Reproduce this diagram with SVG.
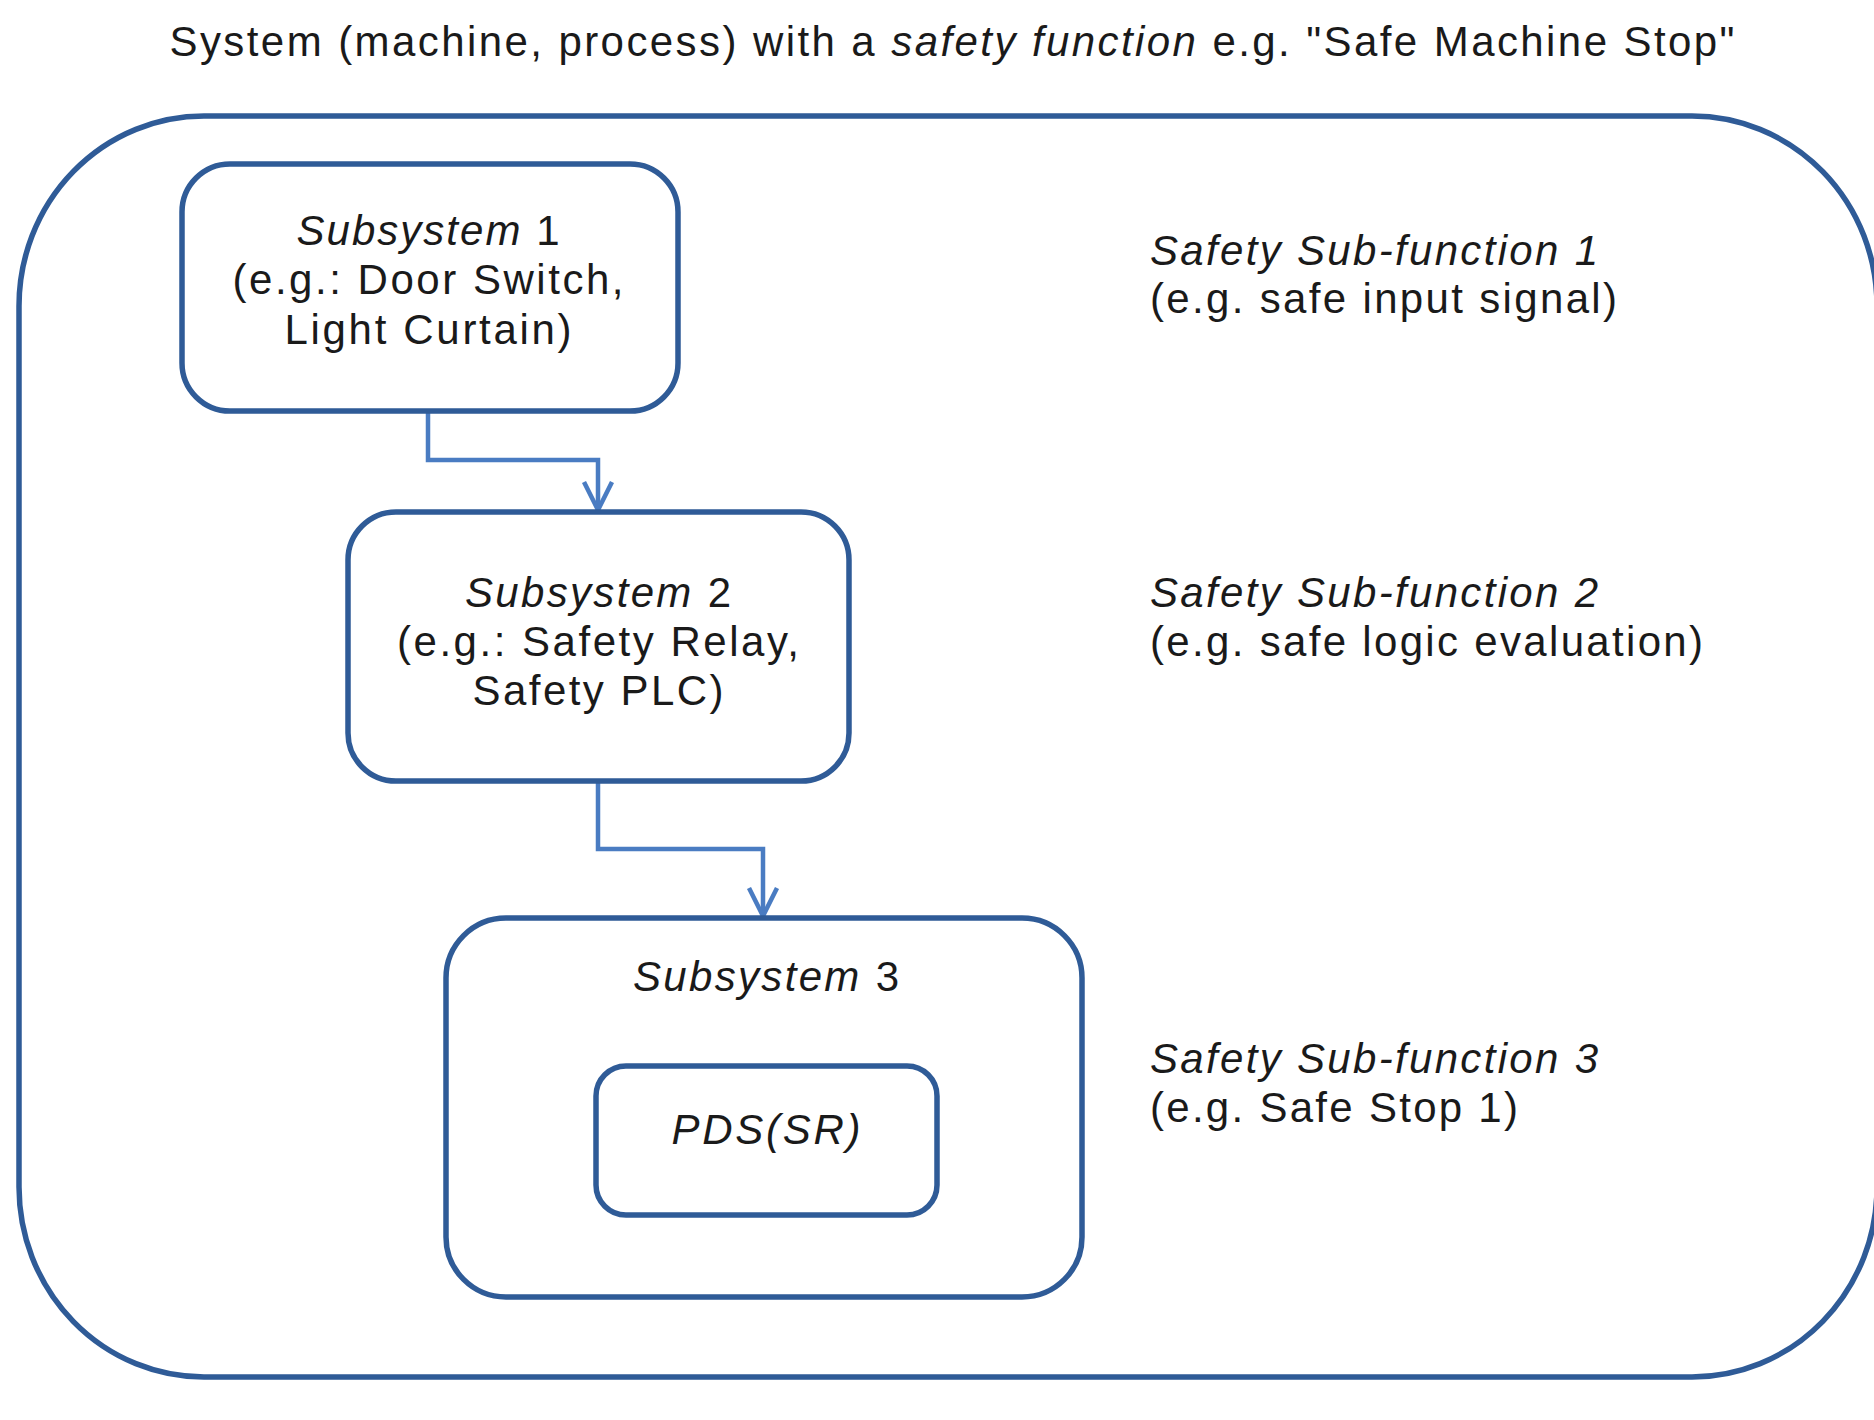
<svg xmlns="http://www.w3.org/2000/svg" width="1874" height="1420" viewBox="0 0 1874 1420">
  <style>
    .frame { fill: none; stroke: #2f5b97; stroke-width: 5.5; }
    .box { fill: #ffffff; stroke: #2f5b97; stroke-width: 5.5; }
    .wire { fill: none; stroke: #4a7cc2; stroke-width: 4.5; }
    .lbl { font-family: "Liberation Sans", Arial, sans-serif; font-size: 42px; fill: #1a1a1a; }
    .mid { text-anchor: middle; }
    .it { font-style: italic; }
  </style>
  <defs>
    <!-- open V arrowhead, drawn along +x so orient="auto" turns it with the line -->
    <marker id="vhead" markerUnits="userSpaceOnUse" markerWidth="40" markerHeight="40" refX="36" refY="20" orient="auto" viewBox="0 0 40 40">
      <path d="M8 6 L36 20 L8 34" fill="none" stroke="#4a7cc2" stroke-width="4.5"/>
    </marker>
  </defs>

  <rect width="1874" height="1420" fill="#ffffff"/>

  <!-- heading -->
  <text class="lbl" x="952" y="56" text-anchor="middle" textLength="1565" lengthAdjust="spacing">System (machine, process) with a <tspan class="it">safety function</tspan> e.g. "Safe Machine Stop"</text>

  <!-- system boundary -->
  <g id="system">
    <rect class="frame" x="19" y="116" width="1858" height="1261" rx="185" ry="190"/>
  </g>

  <g id="connectors">
    <polyline class="wire" points="428,411 428,460 598,460 598,510" marker-end="url(#vhead)"/>
    <polyline class="wire" points="598,781 598,849 763,849 763,916" marker-end="url(#vhead)"/>
  </g>

  <g id="subsystem1">
    <rect class="box" x="182" y="164" width="496" height="247" rx="48"/>
    <text class="lbl mid" x="428" y="245" textLength="263" lengthAdjust="spacing"><tspan class="it">Subsystem</tspan> 1</text>
    <text class="lbl mid" x="428" y="294" textLength="391" lengthAdjust="spacing">(e.g.: Door Switch,</text>
    <text class="lbl mid" x="428" y="344" textLength="287" lengthAdjust="spacing">Light Curtain)</text>
  </g>

  <g id="subsystem2">
    <rect class="box" x="348" y="512" width="501" height="269" rx="48"/>
    <text class="lbl mid" x="598" y="607" textLength="266" lengthAdjust="spacing"><tspan class="it">Subsystem</tspan> 2</text>
    <text class="lbl mid" x="598" y="656" textLength="402" lengthAdjust="spacing">(e.g.: Safety Relay,</text>
    <text class="lbl mid" x="598" y="705" textLength="251" lengthAdjust="spacing">Safety PLC)</text>
  </g>

  <g id="subsystem3">
    <rect class="box" x="446" y="918" width="636" height="379" rx="60"/>
    <text class="lbl mid" x="766" y="991" textLength="266" lengthAdjust="spacing"><tspan class="it">Subsystem</tspan> 3</text>
  </g>

  <g id="pds">
    <rect class="box" x="596" y="1066" width="341" height="149" rx="30"/>
    <text class="lbl mid it" x="766" y="1144" textLength="189" lengthAdjust="spacing">PDS(SR)</text>
  </g>

  <g id="subfunction1">
    <text class="lbl it" x="1150" y="265" textLength="448" lengthAdjust="spacing">Safety Sub-function 1</text>
    <text class="lbl" x="1150" y="313" textLength="467" lengthAdjust="spacing">(e.g. safe input signal)</text>
  </g>

  <g id="subfunction2">
    <text class="lbl it" x="1150" y="607" textLength="448" lengthAdjust="spacing">Safety Sub-function 2</text>
    <text class="lbl" x="1150" y="656" textLength="553" lengthAdjust="spacing">(e.g. safe logic evaluation)</text>
  </g>

  <g id="subfunction3">
    <text class="lbl it" x="1150" y="1073" textLength="448" lengthAdjust="spacing">Safety Sub-function 3</text>
    <text class="lbl" x="1150" y="1122" textLength="368" lengthAdjust="spacing">(e.g. Safe Stop 1)</text>
  </g>
</svg>
